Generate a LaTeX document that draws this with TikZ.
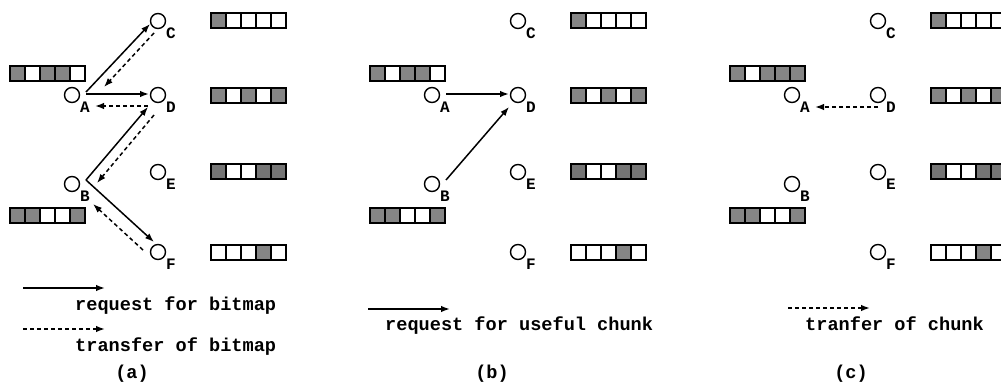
\documentclass[tikz,border=0pt]{standalone}
\usepackage{fontspec}
\setmonofont{Liberation Mono}
\usetikzlibrary{arrows.meta,calc}

\definecolor{chunkgray}{gray}{0.52}
\definecolor{chunkdots}{gray}{0.46}

\tikzset{
  peer/.style={circle,draw,line width=1.4pt,minimum size=15pt,inner sep=0pt},
  plabel/.style={font=\ttfamily\bfseries\fontsize{16}{16}\selectfont,inner sep=0pt},
  req/.style={line width=1.5pt,-{Latex[length=9pt,width=6.5pt]}},
  xfer/.style={req,dash pattern=on 4pt off 3pt},
  legend/.style={font=\ttfamily\bfseries\fontsize{18.6}{20}\selectfont,inner sep=0pt,anchor=base west},
  caption/.style={font=\ttfamily\bfseries\fontsize{18.6}{20}\selectfont,inner sep=0pt,anchor=base},
  cell/.style={draw,line width=2pt}
}

% peers of one panel: #1 = name prefix, #2 = horizontal offset
\newcommand\peerset[2]{%
  \node[peer] (#1C) at ({#2+158},21)  {};
  \node[peer] (#1A) at ({#2+72},95)   {};
  \node[peer] (#1D) at ({#2+158},95)  {};
  \node[peer] (#1B) at ({#2+72},184)  {};
  \node[peer] (#1E) at ({#2+158},172) {};
  \node[peer] (#1F) at ({#2+158},252) {};
  \foreach \n in {A,B,C,D,E,F}
    \node[plabel,at={(#1\n)},xshift=13pt,yshift=-12pt] (#1\n-name) {\n};
}

% bitmap of five chunks: #1,#2 = top-left corner, #3 = list (0 empty, 1 held, 2 held/dotted)
\newcommand\chunkmap[3]{%
  \foreach \v [count=\i from 0] in {#3} {
    \ifcase\v \def\cellfill{white}\or \def\cellfill{chunkgray}\else \def\cellfill{chunkdots}\fi
    \draw[cell,fill=\cellfill] ({#1+15*\i},#2) rectangle ++(15,15);
  }
}

\begin{document}
\begin{tikzpicture}[x=1pt,y=-1pt]
\useasboundingbox (0,0) rectangle (1001,383);

% ---------- panel (a): bitmap exchange ----------
\peerset{a}{0}
\chunkmap{211}{13}{1,0,0,0,0}
\chunkmap{10}{66}{1,0,1,1,0}
\chunkmap{211}{88}{1,0,1,0,1}
\chunkmap{211}{164}{2,0,0,2,2}
\chunkmap{10}{208}{1,1,0,0,1}
\chunkmap{211}{245}{0,0,0,1,0}

\draw[req]  ($(aA)+(14,-3)$)  -- ($(aC)+(-8,3)$);
\draw[xfer] ($(aC)+(-4,12)$)  -- ($(aA)+(32,-8)$);
\draw[req]  ($(aA)+(14,-1)$)  -- ($(aD)+(-9,-1)$);
\draw[xfer] ($(aD)+(-10,11)$) -- ($(aA)+(23,11)$);
\draw[req]  ($(aB)+(14,-4)$)  -- ($(aD)+(-10,12)$);
\draw[xfer] ($(aD)+(-4,20)$)  -- ($(aB)+(25,-1)$);
\draw[req]  ($(aB)+(14,-4)$)  -- ($(aF)+(-4,-10)$);
\draw[xfer] ($(aF)+(-15,-2)$) -- ($(aB)+(21,20)$);

\coordinate (ka1) at (23,288);  \coordinate (ka2) at (105,288);
\coordinate (ka3) at (23,329);  \coordinate (ka4) at (105,329);
\draw[req]  (ka1) -- (ka2);
\draw[xfer] (ka3) -- (ka4);
\node[legend]  (ta1) at (75,310) {request for bitmap};
\node[legend]  (ta2) at (75,351) {transfer of bitmap};
\node[caption] (capa) at (132,378) {(a)};

% ---------- panel (b): chunk requests ----------
\peerset{b}{360}
\chunkmap{571}{13}{1,0,0,0,0}
\chunkmap{370}{66}{1,0,1,1,0}
\chunkmap{571}{88}{1,0,1,0,1}
\chunkmap{571}{164}{2,0,0,2,2}
\chunkmap{370}{208}{1,1,0,0,1}
\chunkmap{571}{245}{0,0,0,1,0}

\draw[req] ($(bA)+(14,-1)$) -- ($(bD)+(-9,-1)$);
\draw[req] ($(bB)+(14,-4)$) -- ($(bD)+(-9,12)$);

\coordinate (kb1) at (368,309); \coordinate (kb2) at (450,309);
\draw[req] (kb1) -- (kb2);
\node[legend]  (tb1) at (385,330) {request for useful chunk};
\node[caption] (capb) at (492,378) {(b)};

% ---------- panel (c): chunk transfer ----------
\peerset{c}{720}
\chunkmap{931}{13}{1,0,0,0,0}
\chunkmap{730}{66}{1,0,1,1,1}
\chunkmap{931}{88}{1,0,1,0,1}
\chunkmap{931}{164}{2,0,0,2,2}
\chunkmap{730}{208}{1,1,0,0,1}
\chunkmap{931}{245}{0,0,0,1,0}

\draw[xfer] ($(cD)+(0,12)$) -- ($(cA)+(23,12)$);

\coordinate (kc1) at (788,308); \coordinate (kc2) at (870,308);
\draw[xfer] (kc1) -- (kc2);
\node[legend]  (tc1) at (805,330) {tranfer of chunk};
\node[caption] (capc) at (851,378) {(c)};
\end{tikzpicture}
\end{document}
